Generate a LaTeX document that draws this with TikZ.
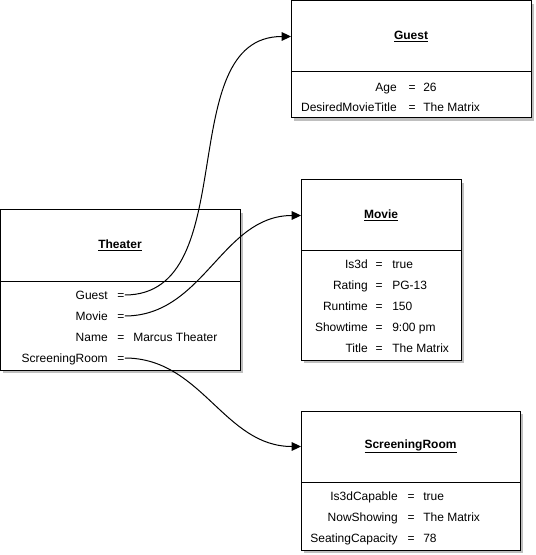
\documentclass[tikz,border=0pt]{standalone}
\usepackage{fontspec}
\setmainfont{Liberation Sans}
\usetikzlibrary{positioning, arrows.meta, shadows}

\begin{document}
\begin{tikzpicture}[
      x=0.75pt, y=-0.75pt,
      every node/.style={font=\fontsize{9}{11}\selectfont},
      boxshadow/.style={drop shadow={opacity=1, fill=black!25,
                        shadow xshift=2.5pt, shadow yshift=-2.5pt}},
      objhead/.style={draw, fill=white, line width=0.75pt, outer sep=0pt,
                      anchor=north west, minimum width=#1, minimum height=53.25pt, boxshadow},
      objbody/.style={draw, fill=white, line width=0.75pt, outer sep=0pt,
                      minimum width=#1, boxshadow},
      key/.style={anchor=east, inner sep=0pt, text height=6.5pt, text depth=0pt},
      eqs/.style={inner sep=0pt, text height=6.5pt, text depth=0pt},
      val/.style={anchor=west, inner sep=0pt, text height=6.5pt, text depth=0pt},
      link/.style={-{Triangle[length=7pt, width=6.5pt]}, line width=0.75pt},
    ]
    \useasboundingbox (0,0) rectangle (535,555);

    % Guest
    \node[objhead=180pt] (guest) at (291,1) {\underline{\textbf{Guest}}};
    \node[objbody=180pt, minimum height=34.5pt, below=0pt of guest] (guestbody) {};
    \node[key] (gAge) at (397,87) {Age};
    \node[eqs] (gAgeEq) at (412,87) {=};
    \node[val] (gAgeVal) at (423,87) {26};
    \node[key] (gTitle) at (397,107) {DesiredMovieTitle};
    \node[eqs] (gTitleEq) at (412,107) {=};
    \node[val] (gTitleVal) at (423,107) {The Matrix};

    % Movie
    \node[objhead=120pt] (movie) at (301,180) {\underline{\textbf{Movie}}};
    \node[objbody=120pt, minimum height=81.75pt, below=0pt of movie] (moviebody) {};
    \node[key] (mIs3d) at (368,264) {Is3d};
    \node[eqs] (mIs3dEq) at (379,264) {=};
    \node[val] (mIs3dVal) at (392,264) {true};
    \node[key] (mRating) at (368,285) {Rating};
    \node[eqs] (mRatingEq) at (379,285) {=};
    \node[val] (mRatingVal) at (392,285) {PG-13};
    \node[key] (mRuntime) at (368,306) {Runtime};
    \node[eqs] (mRuntimeEq) at (379,306) {=};
    \node[val] (mRuntimeVal) at (392,306) {150};
    \node[key] (mShow) at (368,327) {Showtime};
    \node[eqs] (mShowEq) at (379,327) {=};
    \node[val] (mShowVal) at (392,327) {9:00 pm};
    \node[key] (mTitle) at (368,348) {Title};
    \node[eqs] (mTitleEq) at (379,348) {=};
    \node[val] (mTitleVal) at (392,348) {The Matrix};

    % ScreeningRoom
    \node[objhead=164.25pt] (room) at (301,411) {\underline{\textbf{ScreeningRoom}}};
    \node[objbody=164.25pt, minimum height=51pt, below=0pt of room] (roombody) {};
    \node[key] (rCap3d) at (398,496) {Is3dCapable};
    \node[eqs] (rCap3dEq) at (411,496) {=};
    \node[val] (rCap3dVal) at (423,496) {true};
    \node[key] (rNow) at (398,517) {NowShowing};
    \node[eqs] (rNowEq) at (411,517) {=};
    \node[val] (rNowVal) at (423,517) {The Matrix};
    \node[key] (rSeats) at (398,538) {SeatingCapacity};
    \node[eqs] (rSeatsEq) at (411,538) {=};
    \node[val] (rSeatsVal) at (423,538) {78};

    % Theater
    \node[objhead=180pt] (theater) at (0,210) {\underline{\textbf{Theater}}};
    \node[objbody=180pt, minimum height=66.75pt, below=0pt of theater] (theaterbody) {};
    \node[key] (tGuest) at (108,295) {Guest};
    \node[eqs] (tGuestEq) at (121,295) {=};
    \node[key] (tMovie) at (108,316) {Movie};
    \node[eqs] (tMovieEq) at (121,316) {=};
    \node[key] (tName) at (108,337) {Name};
    \node[eqs] (tNameEq) at (121,337) {=};
    \node[val] (tNameVal) at (133,337) {Marcus Theater};
    \node[key] (tRoom) at (108,358) {ScreeningRoom};
    \node[eqs] (tRoomEq) at (121,358) {=};

    \draw[link] (tGuestEq.east) to[out=0, in=180] (guest.west);
    \draw[link] (tMovieEq.east) to[out=0, in=180] (movie.west);
    \draw[link] (tRoomEq.east) to[out=0, in=180] (room.west);
  \end{tikzpicture}
\end{document}
